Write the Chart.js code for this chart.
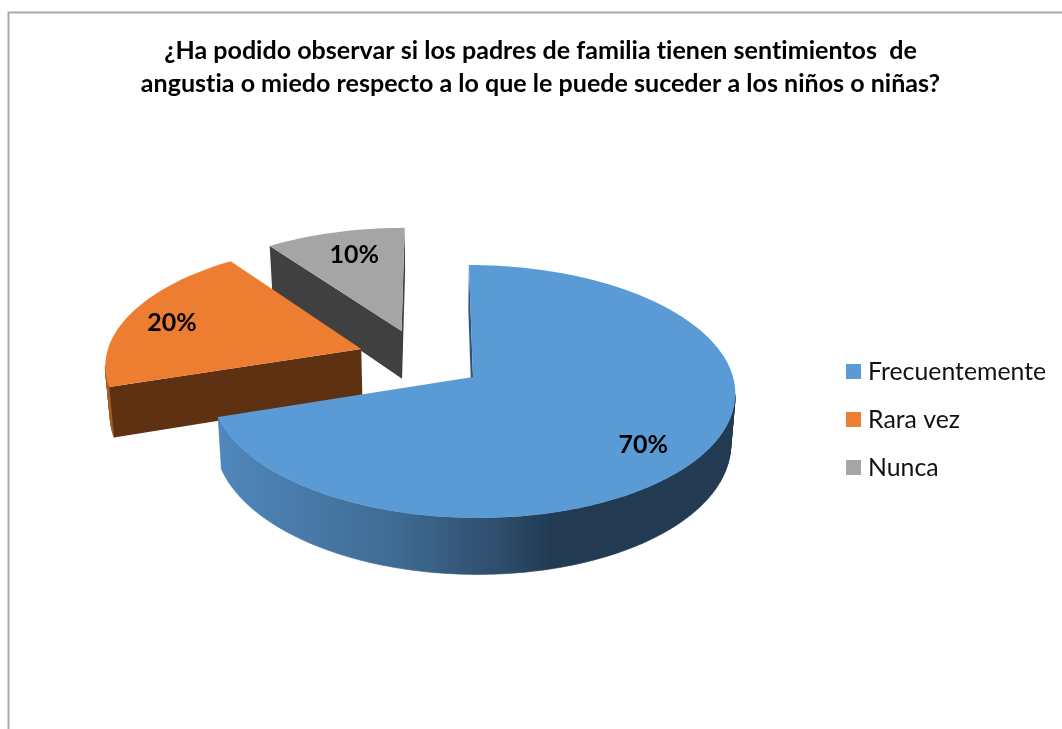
<!DOCTYPE html>
<html>
<head>
<meta charset="utf-8">
<style>html,body{margin:0;padding:0;background:#fff}canvas{display:block}</style>
<script src="https://cdn.jsdelivr.net/npm/chart.js@4"></script>
</head>
<body>
<canvas id="c" width="1062" height="729"></canvas>
<script>
const titleLines = [
  "¿Ha podido observar si los padres de familia tienen sentimientos  de",
  "angustia o miedo respecto a lo que le puede suceder a los niños o niñas?"
];
const categories = ["Frecuentemente", "Rara vez", "Nunca"];
const values = [70, 20, 10];
const colors = ["#5B9BD5", "#ED7D31", "#A5A5A5"];

const FONT = "Lato";
const cam = {cx:473, cy:377, vx:433, rx:260, ry:124.8, b:0.1146, depth:50, shrink:0.985};
const explode = [[0,0],[-0.437,-0.23],[-0.280,-0.385]];
const cutColors = ["#2C5578","#5E3113","#404040"];
const labelNudge = [[2,10],[-15,1],[4,0]];

function proj(X,Y,low){
  const den = 1 - cam.b*Y, s = low ? cam.shrink : 1;
  return {
    x: cam.vx + s*(cam.cx - cam.vx + cam.rx*X)/den,
    y: cam.cy + (cam.ry*Y + (low ? cam.depth : 0))/den
  };
}

const pie3d = {
  id:"pie3d",
  beforeDraw(chart){
    const c = chart.ctx;
    if("letterSpacing" in c) c.letterSpacing = "0.01px";
    c.save();
    c.fillStyle = "#fff";
    c.fillRect(0,0,chart.width,chart.height);
    c.strokeStyle = "#A9A9A9";
    c.lineWidth = 2;
    c.strokeRect(8.5,12.5,1200,1000);
    c.restore();
  },
  beforeDatasetsDraw(chart){
    const c = chart.ctx, arcs = chart.getDatasetMeta(0).data;
    const grad = c.createLinearGradient(220,0,736,0);
    grad.addColorStop(0,"#5087BC");
    grad.addColorStop(0.35,"#3F6A92");
    grad.addColorStop(0.54,"#2F4D6C");
    grad.addColorStop(0.64,"#223B53");
    grad.addColorStop(1,"#223B53");
    const arcFills = [grad,"#A85A22","#6E6E6E"];
    c.save();
    for(let i=arcs.length-1;i>=0;i--){
      const p = arcs[i].getProps(["startAngle","endAngle"],true);
      const [ex,ey] = explode[i];
      const plane = [[ex,ey]];
      const n = Math.max(2,Math.round((p.endAngle-p.startAngle)/(Math.PI/180)));
      for(let k=0;k<=n;k++){
        const a = p.startAngle + (p.endAngle-p.startAngle)*k/n;
        plane.push([ex+Math.cos(a),ey+Math.sin(a)]);
      }
      const top = plane.map(q=>proj(q[0],q[1],false));
      const low = plane.map(q=>proj(q[0],q[1],true));
      const quad = (j,m)=>{
        c.moveTo(top[j].x,top[j].y);
        c.lineTo(top[m].x,top[m].y);
        c.lineTo(low[m].x,low[m].y);
        c.lineTo(low[j].x,low[j].y);
        c.closePath();
      };
      const L = top.length;
      c.fillStyle = arcFills[i];
      c.strokeStyle = arcFills[i];
      c.lineWidth = 0.6;
      c.beginPath();
      for(let j=1;j<L-1;j++){ if(top[j+1].x < top[j].x) quad(j,j+1); }
      c.fill();
      c.stroke();
      c.fillStyle = cutColors[i];
      c.beginPath();
      if(top[1].x < top[0].x) quad(0,1);
      if(top[0].x < top[L-1].x) quad(L-1,0);
      c.fill();
      c.fillStyle = colors[i];
      c.beginPath();
      top.forEach((q,j)=> j ? c.lineTo(q.x,q.y) : c.moveTo(q.x,q.y));
      c.closePath();
      c.fill();
    }
    c.fillStyle = "#000";
    c.font = "bold 25px "+FONT;
    c.textAlign = "center";
    c.textBaseline = "middle";
    arcs.forEach((arc,i)=>{
      const p = arc.getProps(["startAngle","endAngle"],true);
      const m = (p.startAngle+p.endAngle)/2;
      const q = proj(explode[i][0]+0.75*Math.cos(m),explode[i][1]+0.75*Math.sin(m),false);
      c.fillText(values[i]+"%",q.x+labelNudge[i][0],q.y+labelNudge[i][1]);
    });
    c.restore();
    return false;
  }
};

new Chart(document.getElementById("c"),{
  type:"pie",
  data:{labels:categories,datasets:[{data:values,backgroundColor:colors,borderWidth:0}]},
  plugins:[pie3d],
  options:{
    responsive:false,
    animation:false,
    rotation:0,
    layout:{padding:{left:25,right:6,top:34,bottom:0}},
    plugins:{
      tooltip:{enabled:false},
      title:{display:true,text:titleLines,color:"#000",
        font:{family:FONT,size:25.05,weight:"bold",lineHeight:1.32},
        padding:{top:0,bottom:10}},
      legend:{display:true,position:"right",fullSize:false,
        labels:{usePointStyle:true,pointStyle:"rect",boxWidth:4.2,boxHeight:15,padding:23.2,color:"#111",
          font:{family:FONT,size:24.8}}}
    }
  }
});
</script>
</body>
</html>
